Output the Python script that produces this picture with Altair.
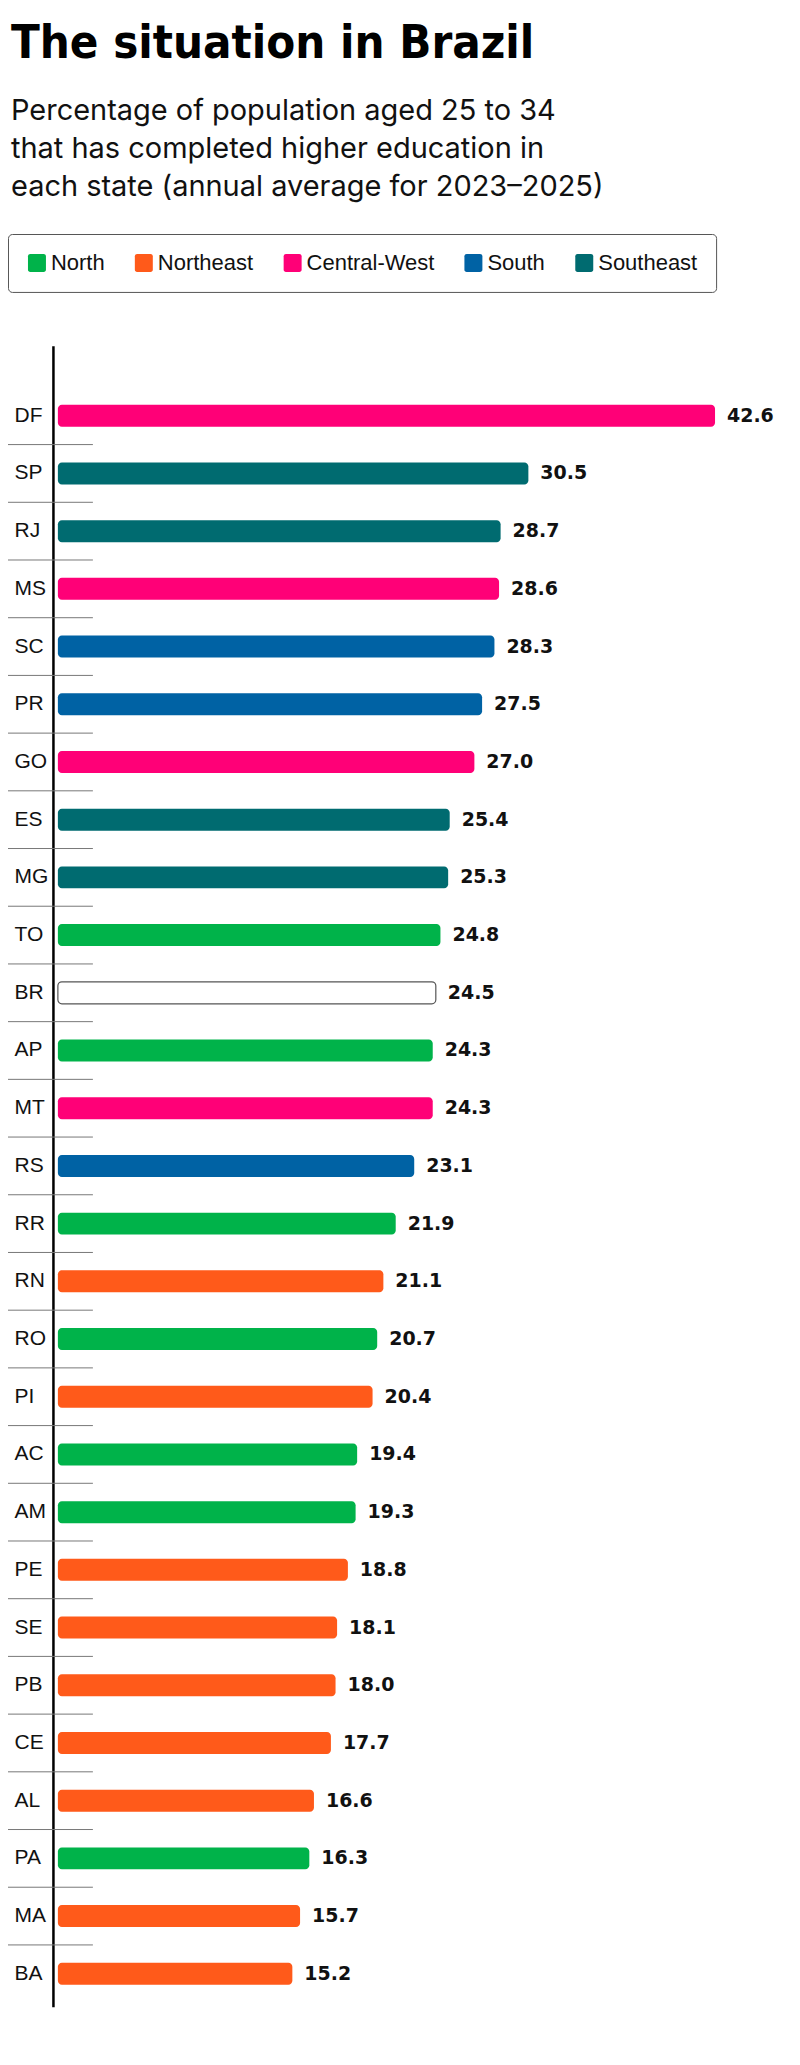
import altair as alt
import pandas as pd

states = ["DF", "SP", "RJ", "MS", "SC", "PR", "GO", "ES", "MG", "TO", "BR", "AP", "MT", "RS",
          "RR", "RN", "RO", "PI", "AC", "AM", "PE", "SE", "PB", "CE", "AL", "PA", "MA", "BA"]
values = [42.6, 30.5, 28.7, 28.6, 28.3, 27.5, 27.0, 25.4, 25.3, 24.8, 24.5, 24.3, 24.3, 23.1,
          21.9, 21.1, 20.7, 20.4, 19.4, 19.3, 18.8, 18.1, 18.0, 17.7, 16.6, 16.3, 15.7, 15.2]
regions = ["Central-West", "Southeast", "Southeast", "Central-West", "South", "South",
           "Central-West", "Southeast", "Southeast", "North", "Brazil", "North", "Central-West",
           "South", "North", "Northeast", "North", "Northeast", "North", "North", "Northeast",
           "Northeast", "Northeast", "Northeast", "Northeast", "North", "Northeast", "Northeast"]

region_order = ["North", "Northeast", "Central-West", "South", "Southeast"]
region_colors = ["#00B34A", "#FF5A1A", "#FF0077", "#0062A4", "#006B70"]

df = pd.DataFrame({"state": states, "value": values, "region": regions})
df["idx"] = range(len(df))

y_enc = alt.Y(
    "state:N",
    scale=alt.Scale(domain=states, paddingInner=0, paddingOuter=0.391, align=0.909),
    axis=alt.Axis(
        title=None, ticks=False, tickSize=0, grid=False, domainColor="#000000",
        domainWidth=2.5, labelAlign="left", labelPadding=39, labelFont="Liberation Sans",
        labelFontSize=21, labelColor="#111111",
    ),
)
x_scale = alt.Scale(domain=[-0.32, 45], nice=False, zero=False)

base = alt.Chart(df)

rounded_rect = ("M-0.75,-1H0.75A0.25,0.25 0 0 1 1,-0.75V0.75A0.25,0.25 0 0 1 0.75,1"
                "H-0.75A0.25,0.25 0 0 1 -1,0.75V-0.75A0.25,0.25 0 0 1 -0.75,-1Z")

bars = base.transform_filter(alt.datum.region != "Brazil").mark_bar(
    size=22, cornerRadius=4
).encode(
    y=y_enc,
    x=alt.X("value:Q", scale=x_scale, axis=None),
    x2=alt.datum(0),
    color=alt.Color(
        "region:N",
        scale=alt.Scale(domain=region_order, range=region_colors),
        legend=alt.Legend(
            title=None, orient="none", legendX=-45, legendY=-112, direction="horizontal",
            columns=5, labelFont="Liberation Sans", labelFontSize=22, labelColor="#111111",
            symbolType=rounded_rect, symbolSize=324, symbolStrokeWidth=0, symbolOpacity=1,
            labelOffset=3, columnPadding=28, padding=18, strokeColor="#555555",
            cornerRadius=4,
        ),
    ),
)

br_bar = base.transform_filter(alt.datum.region == "Brazil").mark_bar(
    size=22, cornerRadius=4, fill="#ffffff", stroke="#555555", strokeWidth=1.2
).encode(
    y=alt.Y("state:N", scale=alt.Scale(domain=states)),
    x=alt.X("value:Q", scale=x_scale),
    x2=alt.datum(0),
)

labels = base.mark_text(
    align="left", baseline="middle", dx=12, font="DejaVu Sans", fontWeight="bold",
    fontSize=19, color="#111111"
).encode(
    y=alt.Y("state:N", scale=alt.Scale(domain=states)),
    x=alt.X("value:Q", scale=x_scale),
    text=alt.Text("value:Q", format=".1f"),
)

seps = base.transform_filter(alt.datum.idx > 0).mark_rule(
    color="#777777", strokeWidth=1
).encode(
    y=alt.Y("state:N", scale=alt.Scale(domain=states), bandPosition=0),
    x=alt.value(-45),
    x2=alt.value(40),
)

chart = alt.layer(seps, bars, br_bar, labels).properties(
    width=700,
    height=1663,
    autosize=alt.AutoSizeParams(type="none"),
    padding={"left": 45, "top": 337, "right": 40, "bottom": 30},
    title=alt.TitleParams(
        text="The situation in Brazil",
        subtitle=["Percentage of population aged 25 to 34",
                  "that has completed higher education in",
                  "each state (annual average for 2023\u20132025)"],
        anchor="start", frame="group", orient="top", dx=-42, offset=31,
        font="DejaVu Sans Condensed, DejaVu Sans", fontSize=47, fontWeight="bold",
        color="#000000",
        subtitleFont="Inter", subtitleFontSize=29, subtitleColor="#111111",
        subtitleLineHeight=38, subtitlePadding=29,
    ),
).configure_view(stroke=None)

chart.save("out.html", embed_options={"renderer": "svg", "actions": False})
